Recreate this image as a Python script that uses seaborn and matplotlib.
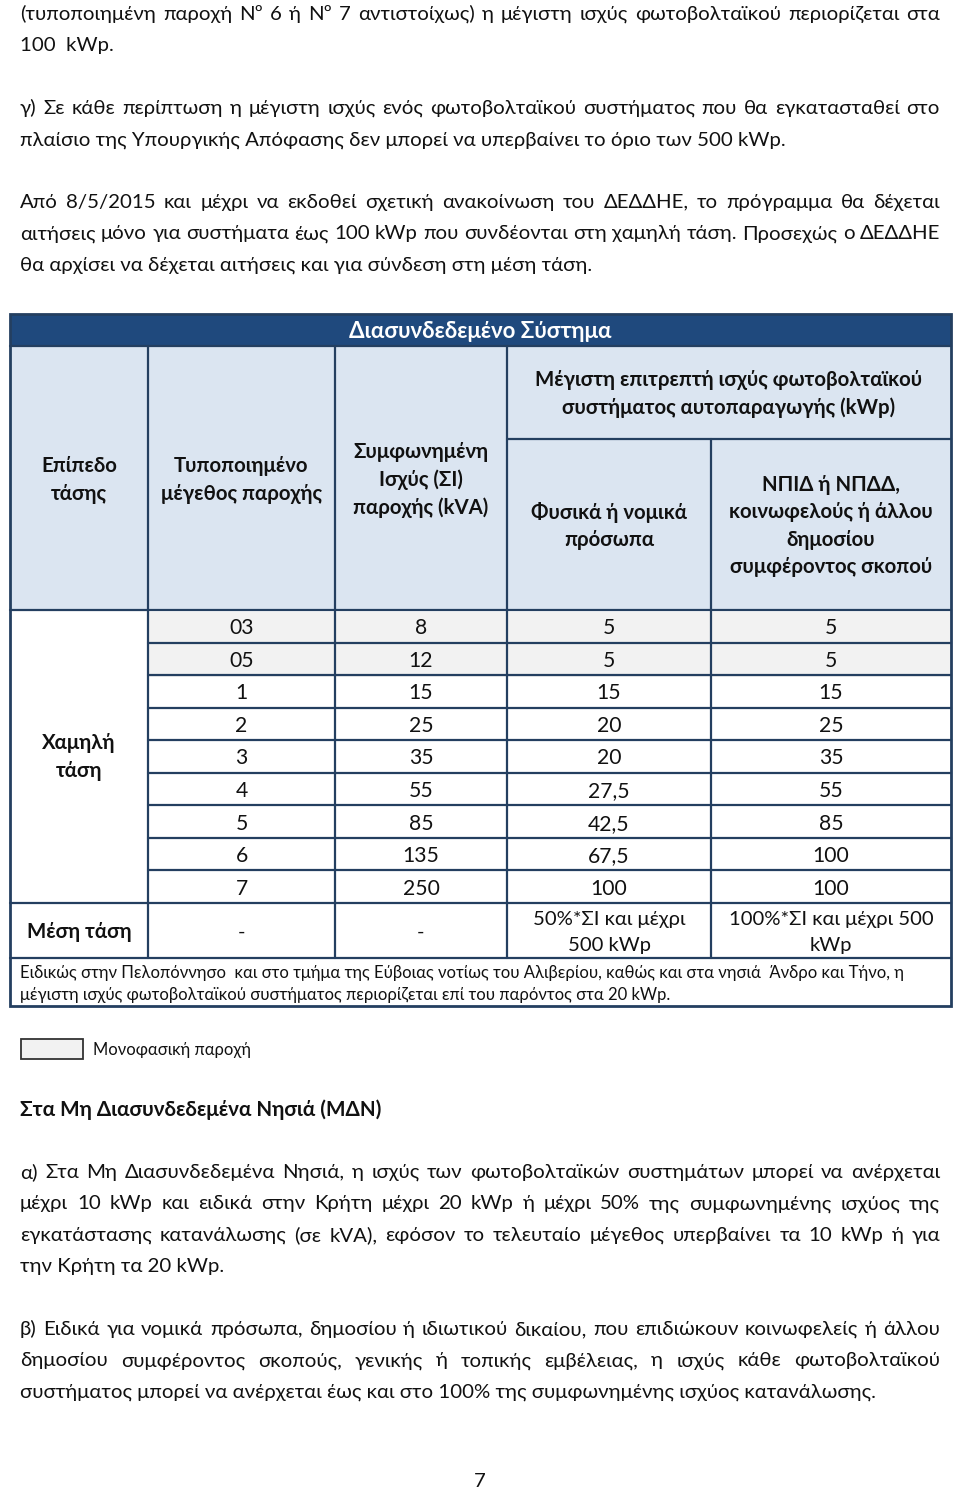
import matplotlib
matplotlib.use("Agg")
import matplotlib.pyplot as plt
import seaborn as sns
import numpy as np
import pandas as pd
from matplotlib.colors import ListedColormap
from matplotlib.patches import Rectangle

sns.set_theme(style="white")
plt.rcParams['font.family'] = ['Lato', 'DejaVu Sans']

# ---------------- data ----------------
supply_sizes = ["03", "05", "1", "2", "3", "4", "5", "6", "7"]
agreed_kva = ["8", "12", "15", "25", "35", "55", "85", "135", "250"]
max_natural = ["5", "5", "15", "20", "20", "27,5", "42,5", "67,5", "100"]
max_public = ["5", "5", "15", "25", "35", "55", "85", "100", "100"]
single_phase = [1, 1, 0, 0, 0, 0, 0, 0, 0]

mv_row = ["Μέση τάση", "-", "-", "50%*ΣΙ και μέχρι\n500 kWp", "100%*ΣΙ και μέχρι 500\nkWp"]
header_cols = ["Επίπεδο\nτάσης", "Τυποποιημένο\nμέγεθος παροχής",
               "Συμφωνημένη\nΙσχύς (ΣΙ)\nπαροχής (kVA)"]
header_group = "Μέγιστη επιτρεπτή ισχύς φωτοβολταϊκού\nσυστήματος αυτοπαραγωγής (kWp)"
header_sub = ["Φυσικά ή νομικά\nπρόσωπα", "ΝΠΙΔ ή ΝΠΔΔ,\nκοινωφελούς ή άλλου\nδημοσίου\nσυμφέροντος σκοπού"]
table_title = "Διασυνδεδεμένο Σύστημα"
low_voltage = "Χαμηλή\nτάση"
footnote = ["Ειδικώς στην Πελοπόννησο  και στο τμήμα της Εύβοιας νοτίως του Αλιβερίου, καθώς και στα νησιά  Άνδρο και Τήνο, η",
            "μέγιστη ισχύς φωτοβολταϊκού συστήματος περιορίζεται επί του παρόντος στα 20 kWp."]
legend_label = "Μονοφασική παροχή"

top_lines = [
    ("(τυποποιημένη παροχή Nº 6 ή  Nº 7 αντιστοίχως) η μέγιστη ισχύς φωτοβολταϊκού περιορίζεται στα", True),
    ("100  kWp.", False),
    None,
    ("γ) Σε κάθε περίπτωση η μέγιστη ισχύς ενός φωτοβολταϊκού συστήματος που θα εγκατασταθεί στο", True),
    ("πλαίσιο της Υπουργικής Απόφασης δεν μπορεί να υπερβαίνει το όριο των 500 kWp.", False),
    None,
    ("Από 8/5/2015 και μέχρι να εκδοθεί σχετική ανακοίνωση του ΔΕΔΔΗΕ, το πρόγραμμα θα δέχεται", True),
    ("αιτήσεις μόνο για συστήματα έως 100 kWp που συνδέονται στη χαμηλή τάση. Προσεχώς ο ΔΕΔΔΗΕ", True),
    ("θα αρχίσει να δέχεται αιτήσεις και για σύνδεση στη μέση τάση.", False),
]
section_title = "Στα Μη Διασυνδεδεμένα Νησιά (ΜΔΝ)"
bottom_lines = [
    ("α) Στα Μη Διασυνδεδεμένα Νησιά, η ισχύς των φωτοβολταϊκών συστημάτων μπορεί να ανέρχεται", True),
    ("μέχρι 10 kWp και ειδικά στην Κρήτη  μέχρι 20  kWp ή μέχρι 50% της συμφωνημένης ισχύος της", True),
    ("εγκατάστασης κατανάλωσης (σε kVA),  εφόσον το τελευταίο μέγεθος υπερβαίνει τα 10 kWp  ή για", True),
    ("την Κρήτη τα 20 kWp.", False),
    None,
    ("β) Ειδικά για νομικά πρόσωπα, δημοσίου ή ιδιωτικού δικαίου, που επιδιώκουν κοινωφελείς ή άλλου", True),
    ("δημοσίου συμφέροντος σκοπούς, γενικής ή τοπικής εμβέλειας, η ισχύς κάθε φωτοβολταϊκού", True),
    ("συστήματος μπορεί να ανέρχεται έως και στο 100% της συμφωνημένης ισχύος κατανάλωσης.", False),
]
page_number = "7"

# ---------------- layout ----------------
W, H, DPI = 960, 1489, 100
fig = plt.figure(figsize=(W / DPI, H / DPI), dpi=DPI)
fig.patch.set_facecolor("white")
ax = fig.add_axes([0, 0, 1, 1])
ax.set_xlim(0, W)
ax.set_ylim(H, 0)
ax.axis("off")
R = fig.canvas.get_renderer()

NAVY = "#1F497D"
HEAD = "#DBE5F1"
LINE = "#243F60"
GREY = "#F2F2F2"
TXT = "#111111"


def text_width(s, size, weight="normal"):
    t = ax.text(0, 0, s, fontsize=size, fontweight=weight)
    w = t.get_window_extent(renderer=R).width
    t.remove()
    return w


def fit(s, target, weight="normal"):
    return 10 * target / text_width(s, 10, weight)


FS = fit("πλαίσιο της Υπουργικής Απόφασης δεν μπορεί να υπερβαίνει το όριο των 500 kWp.", 765)
FS_FOOT = fit(footnote[0], 882)
FS_LEG = fit(legend_label, 158)
FS_TITLE = fit(table_title, 263, "bold")
FS_HEAD = fit("Μέγιστη επιτρεπτή ισχύς φωτοβολταϊκού", 388, "bold")
FS_SEC = fit(section_title, 361, "bold")
FS_CELL = fit("100%*ΣΙ και μέχρι 500", 204)


def draw_line(s, y, size, justify=False, x0=20, x1=940, weight="normal"):
    if not justify:
        ax.text(x0, y, s, fontsize=size, fontweight=weight, va="baseline", ha="left", color=TXT)
        return
    words = s.split()
    widths = [text_width(w, size, weight) for w in words]
    gap = (x1 - x0 - sum(widths)) / (len(words) - 1)
    x = x0
    for w, wd in zip(words, widths):
        ax.text(x, y, w, fontsize=size, fontweight=weight, va="baseline", ha="left", color=TXT)
        x += wd + gap


def draw_block(lines, y0, step, size):
    y = y0
    for ln in lines:
        if ln is not None:
            draw_line(ln[0], y, size, ln[1])
        y += step


draw_block(top_lines, 20, 31.3, FS)

# ---------------- table ----------------
TL, TR = 10, 951
XC = [10, 148, 335, 507, 711, 951]
Y_TITLE, Y_HEAD, Y_SUB, Y_BODY = 314, 346, 439, 610
ROW_H = (903 - 610) / 9
Y_MV, Y_FOOT, Y_END = 903, 958, 1006

ax.add_patch(Rectangle((TL, Y_TITLE), TR - TL, Y_HEAD - Y_TITLE, fc=NAVY, ec="none"))
ax.add_patch(Rectangle((TL, Y_HEAD), TR - TL, Y_BODY - Y_HEAD, fc=HEAD, ec="none"))
ax.text((TL + TR) / 2, (Y_TITLE + Y_HEAD) / 2 + 1, table_title, color="white",
        fontsize=FS_TITLE, fontweight="bold", ha="center", va="center")

for i, lab in enumerate(header_cols):
    ax.text((XC[i] + XC[i + 1]) / 2, 480, lab, fontsize=FS_HEAD, fontweight="bold",
            ha="center", va="center", linespacing=1.45, color=TXT)
ax.text((XC[3] + XC[5]) / 2, 394, header_group, fontsize=FS_HEAD, fontweight="bold",
        ha="center", va="center", linespacing=1.45, color=TXT)
ax.text((XC[3] + XC[4]) / 2, 526, header_sub[0], fontsize=FS_HEAD, fontweight="bold",
        ha="center", va="center", linespacing=1.45, color=TXT)
ax.text((XC[4] + XC[5]) / 2, 526, header_sub[1], fontsize=FS_HEAD, fontweight="bold",
        ha="center", va="center", linespacing=1.45, color=TXT)

ax.text((XC[0] + XC[1]) / 2, 757, low_voltage, fontsize=FS_HEAD, fontweight="bold",
        ha="center", va="center", linespacing=1.45, color=TXT)

# medium-voltage row
ax.text((XC[0] + XC[1]) / 2, (Y_MV + Y_FOOT) / 2 + 1, mv_row[0], fontsize=FS_HEAD,
        fontweight="bold", ha="center", va="center", color=TXT)
for j in range(1, 5):
    ax.text((XC[j] + XC[j + 1]) / 2, (Y_MV + Y_FOOT) / 2 + 2, mv_row[j], fontsize=FS_CELL,
            ha="center", va="center", linespacing=1.6, color=TXT)

# footnote
ax.text(20, 978, footnote[0], fontsize=FS_FOOT, va="baseline", color=TXT)
ax.text(20, 1000, footnote[1], fontsize=FS_FOOT, va="baseline", color=TXT)

# body cells via seaborn heatmaps (one per column, widths differ)
body = pd.DataFrame({"supply": supply_sizes, "kva": agreed_kva,
                     "natural": max_natural, "public": max_public})
shade = np.array(single_phase, dtype=float)[:, None]
cmap = ListedColormap(["white", GREY])
for j, col in enumerate(body.columns):
    x0, x1 = XC[j + 1], XC[j + 2]
    hax = fig.add_axes([x0 / W, 1 - (Y_MV + 2) / H, (x1 - x0) / W, (Y_MV - Y_BODY) / H], zorder=2)
    sns.heatmap(shade, ax=hax, cmap=cmap, vmin=0, vmax=1, cbar=False,
                annot=body[[col]].values, fmt="",
                annot_kws=dict(fontsize=FS_CELL * 1.04, color=TXT),
                xticklabels=False, yticklabels=False, linewidths=0)
    hax.set_axis_off()

# overlay for grid lines
lax = fig.add_axes([0, 0, 1, 1], zorder=5)
lax.set_xlim(0, W)
lax.set_ylim(H, 0)
lax.axis("off")
lax.patch.set_alpha(0)
LW = 1.6
lax.plot([TL, TR], [Y_HEAD, Y_HEAD], color=LINE, lw=LW)
lax.plot([XC[3], TR], [Y_SUB, Y_SUB], color=LINE, lw=LW)
lax.plot([TL, TR], [Y_BODY, Y_BODY], color=LINE, lw=LW)
for k in range(1, 9):
    yy = Y_BODY + k * ROW_H
    lax.plot([XC[1], TR], [yy, yy], color=LINE, lw=LW)
lax.plot([TL, TR], [Y_MV, Y_MV], color=LINE, lw=LW)
lax.plot([TL, TR], [Y_FOOT, Y_FOOT], color=LINE, lw=LW)
for xx in XC[1:4]:
    lax.plot([xx, xx], [Y_HEAD, Y_FOOT], color=LINE, lw=LW)
lax.plot([XC[4], XC[4]], [Y_SUB, Y_FOOT], color=LINE, lw=LW)
lax.add_patch(Rectangle((TL, Y_TITLE), TR - TL, Y_END - Y_TITLE, fc="none", ec=LINE, lw=2.0))

# legend
ax.add_patch(Rectangle((21, 1039), 62, 20, fc=GREY, ec="#333333", lw=1.3))
ax.text(93, 1050, legend_label, fontsize=FS_LEG, va="center", color=TXT)

# section
ax.text(20, 1116, section_title, fontsize=FS_SEC, fontweight="bold", va="baseline", color=TXT)
draw_block(bottom_lines, 1178, 31.4, FS)

ax.text(480, 1487, page_number, fontsize=FS, ha="center", va="baseline", color=TXT)

fig.savefig("out.png", dpi=DPI, facecolor="white")
